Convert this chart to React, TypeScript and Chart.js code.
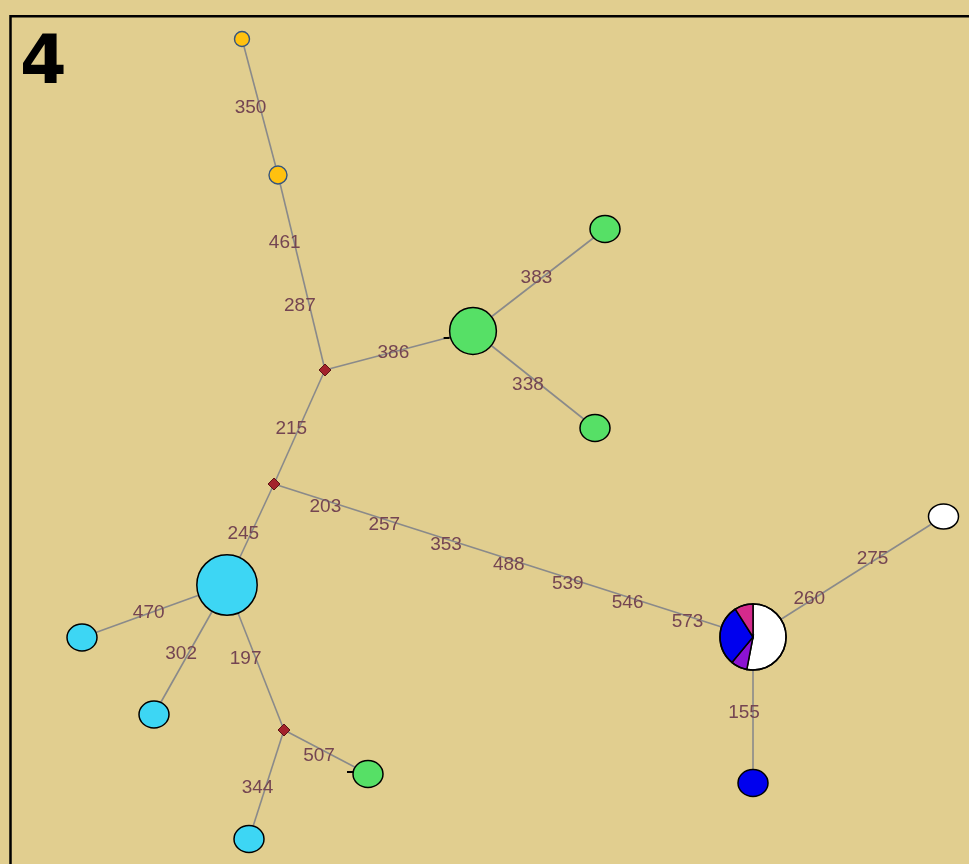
import { useEffect, useRef } from 'react';
import { Chart, registerables } from 'chart.js';

Chart.register(...registerables);

// ---------- data ----------
// network node layout (data space == x 0..969, y 0..864)
const nodeNames = ['O1', 'O2', 'mv1', 'G0', 'G1', 'G2', 'mv2', 'C0', 'C1', 'C2', 'mv3', 'G3', 'C3', 'MIX', 'W1', 'B1'];
const nodeX = [242, 278, 325, 473, 605, 595, 274, 227, 82, 154, 284, 368, 249, 753, 943.5, 753];
const nodeY = [39, 175, 370, 331, 229, 428, 484, 585, 637.5, 714.5, 730, 774, 839, 637, 516.5, 783];
const nodeGroup = ['orange', 'orange', 'mv', 'green', 'green', 'green', 'mv', 'cyan', 'cyan', 'cyan', 'mv', 'green', 'cyan', 'mix', 'white', 'blue'];
const nodeFreq = [1, 1, 0, 3, 1, 1, 0, 5, 1, 1, 0, 1, 1, 6, 1, 1];

// composition of the mixed haplotype (white, purple, blue, magenta)
const mixGroups = ['white', 'purple', 'blue', 'magenta'];
const mixShares = [53, 8, 30, 9];

// edges (node index pairs)
const edgeFrom = [0, 1, 2, 3, 3, 2, 6, 6, 7, 7, 7, 10, 10, 13, 13];
const edgeTo = [1, 2, 3, 4, 5, 6, 7, 13, 8, 9, 10, 11, 12, 14, 15];

// mutation labels on edges: text, edge index, position along edge
const mutText = ['350', '461', '287', '386', '383', '338', '215', '245', '203', '257', '353', '488', '539', '546', '573', '470', '302', '197', '507', '344', '260', '275', '155'];
const mutEdge = [0, 1, 1, 2, 3, 4, 5, 6, 7, 7, 7, 7, 7, 7, 7, 8, 9, 10, 11, 12, 13, 13, 14];
const mutPos = [0.486, 0.334, 0.657, 0.523, 0.549, 0.524, 0.485, 0.462, 0.126, 0.249, 0.378, 0.509, 0.632, 0.757, 0.882, 0.478, 0.505, 0.485, 0.524, 0.5, 0.343, 0.675, 0.5];

// nodes with a small black stub on their left side
const stubNodes = [3, 11];

const panelLabel = '4';

// ---------- styles ----------
const BG = '#e1ce8f';
const EDGE_COLOR = '#8a8a8a';
const LABEL_COLOR = '#744552';
const GROUP_COLOR: Record<string, string> = {
  orange: '#ffc10f',
  green: '#56e066',
  cyan: '#3dd6f4',
  white: '#ffffff',
  blue: '#0000ee',
  purple: '#8c12d2',
  magenta: '#d42a8c',
  mv: '#a3222c',
};

const idx = (g: string) => nodeGroup.map((v, i) => (v === g ? i : -1)).filter((i) => i >= 0);

export default function App() {
  const ref = useRef<HTMLCanvasElement | null>(null);

  useEffect(() => {
    if (!ref.current) return;

    const edgeSets = edgeFrom.map((f, k) => ({
      type: 'scatter' as const,
      label: 'edge' + k,
      data: [
        { x: nodeX[f], y: nodeY[f] },
        { x: nodeX[edgeTo[k]], y: nodeY[edgeTo[k]] },
      ],
      showLine: true,
      borderColor: EDGE_COLOR,
      borderWidth: 1.6,
      pointRadius: 0,
      pointHoverRadius: 0,
      order: 10,
    }));

    const mvIdx = idx('mv');
    const orIdx = idx('orange');
    const hapIdx = nodeGroup.map((g, i) => (g !== 'mv' && g !== 'orange' ? i : -1)).filter((i) => i >= 0);

    const networkPlugin = {
      id: 'network',
      beforeDraw(chart: any) {
        const { ctx, width, height } = chart;
        ctx.save();
        ctx.fillStyle = BG;
        ctx.fillRect(0, 0, width, height);
        // frame
        ctx.strokeStyle = '#000';
        ctx.lineWidth = 2.5;
        ctx.beginPath();
        ctx.moveTo(10.5, height + 5);
        ctx.lineTo(10.5, 16.3);
        ctx.lineTo(width + 5, 16.3);
        ctx.stroke();
        // panel label
        ctx.fillStyle = '#000';
        ctx.font = "bold 67px 'DejaVu Sans', Verdana, sans-serif";
        ctx.textAlign = 'left';
        ctx.textBaseline = 'alphabetic';
        ctx.fillText(panelLabel, 20, 83);
        ctx.restore();
      },
      afterDatasetsDraw(chart: any) {
        const { ctx } = chart;
        const xs = chart.scales.x;
        const ys = chart.scales.y;
        const px = (i: number) => xs.getPixelForValue(nodeX[i]);
        const py = (i: number) => ys.getPixelForValue(nodeY[i]);
        ctx.save();
        // mutation labels
        ctx.font = "19px 'Liberation Sans', Arial, sans-serif";
        ctx.fillStyle = LABEL_COLOR;
        ctx.textAlign = 'center';
        ctx.textBaseline = 'middle';
        mutText.forEach((t, k) => {
          const e = mutEdge[k];
          const a = edgeFrom[e];
          const b = edgeTo[e];
          const p = mutPos[k];
          const x = px(a) + (px(b) - px(a)) * p;
          const y = py(a) + (py(b) - py(a)) * p;
          ctx.fillText(t, x - 9, y + 3);
        });

        // haplotype nodes
        const meta = chart.getDatasetMeta(chart.data.datasets.length - 1);
        hapIdx.forEach((ni, j) => {
          const el = meta.data[j];
          const cx = el.x;
          const cy = el.y;
          const f = nodeFreq[ni];
          const rx = f === 1 ? 15 : 13.5 * Math.sqrt(f);
          const ry = f === 1 ? (nodeGroup[ni] === 'white' ? 12.5 : 13.5) : rx;
          ctx.lineWidth = 1.5;
          ctx.strokeStyle = '#000';
          if (nodeGroup[ni] === 'mix') {
            const tot = mixShares.reduce((s, v) => s + v, 0);
            let ang = -Math.PI / 2;
            mixShares.forEach((v, s) => {
              const a2 = ang + (v / tot) * Math.PI * 2;
              ctx.beginPath();
              ctx.moveTo(cx, cy);
              ctx.arc(cx, cy, rx, ang, a2);
              ctx.closePath();
              ctx.fillStyle = GROUP_COLOR[mixGroups[s]];
              ctx.fill();
              ctx.stroke();
              ang = a2;
            });
            ctx.beginPath();
            ctx.arc(cx, cy, rx, 0, Math.PI * 2);
            ctx.stroke();
          } else {
            ctx.beginPath();
            ctx.ellipse(cx, cy, rx, ry, 0, 0, Math.PI * 2);
            ctx.fillStyle = GROUP_COLOR[nodeGroup[ni]];
            ctx.fill();
            ctx.stroke();
          }
          if (stubNodes.includes(ni)) {
            ctx.beginPath();
            ctx.lineWidth = 2;
            const off = f === 1 ? -2 : 7;
            ctx.moveTo(cx - rx - 6, cy + off);
            ctx.lineTo(cx - rx, cy + off);
            ctx.stroke();
          }
        });
        ctx.restore();
      },
    };

    const chart = new Chart(ref.current, {
      type: 'scatter',
      data: {
        datasets: [
          ...edgeSets,
          {
            type: 'scatter' as const,
            label: 'median vectors',
            data: mvIdx.map((i) => ({ x: nodeX[i], y: nodeY[i] })),
            pointStyle: 'rectRot',
            pointRadius: 6,
            backgroundColor: GROUP_COLOR.mv,
            borderColor: '#5c1515',
            borderWidth: 1,
            order: 1,
          },
          {
            type: 'scatter' as const,
            label: 'orange',
            data: orIdx.map((i) => ({ x: nodeX[i], y: nodeY[i] })),
            pointStyle: 'circle',
            pointRadius: [7.5, 9],
            backgroundColor: GROUP_COLOR.orange,
            borderColor: '#35557e',
            borderWidth: 1.4,
            order: 1,
          },
          {
            type: 'scatter' as const,
            label: 'haplotypes',
            data: hapIdx.map((i) => ({ x: nodeX[i], y: nodeY[i] })),
            pointRadius: 0,
            pointHoverRadius: 0,
            order: 0,
          },
        ] as any,
      },
      options: {
        animation: false,
        responsive: false,
        events: [],
        layout: { padding: 0, autoPadding: false },
        plugins: {
          legend: { display: false },
          tooltip: { enabled: false },
          title: { display: false },
        },
        scales: {
          x: { type: 'linear', min: 0, max: 969, display: false },
          y: { type: 'linear', min: 0, max: 864, reverse: true, display: false },
        },
      },
      plugins: [networkPlugin],
    });
    return () => chart.destroy();
  }, []);

  return (
    <div style={{ position: 'fixed', left: 0, top: 0, width: 969, height: 864, background: BG }}>
      <canvas ref={ref} width={969} height={864} style={{ display: 'block', width: 969, height: 864 }} />
    </div>
  );
}
